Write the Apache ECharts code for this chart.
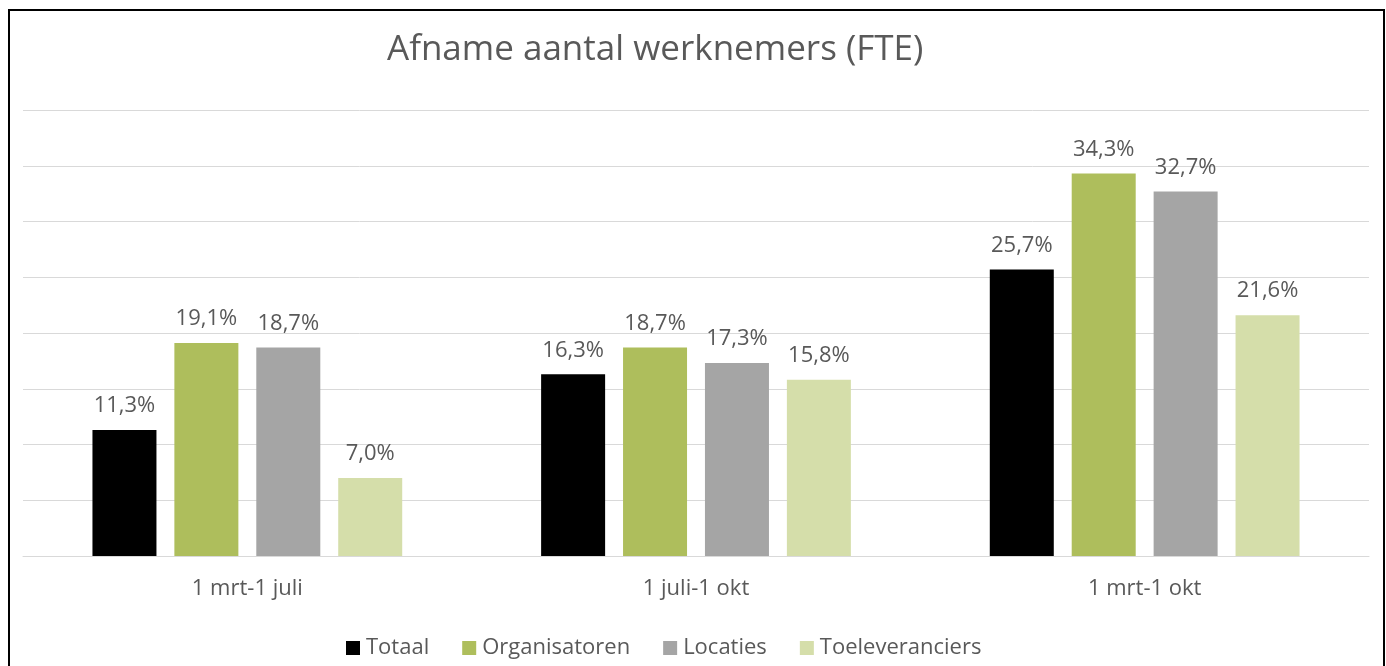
<!DOCTYPE html>
<html>
<head>
<meta charset="utf-8">
<script src="https://cdn.jsdelivr.net/npm/echarts@6/dist/echarts.min.js"></script>
<style>
html,body{margin:0;padding:0;background:#fff;}
#chart{width:1386px;height:666px;}
</style>
</head>
<body>
<div id="chart"></div>
<script>
const categories = ['1 mrt-1 juli', '1 juli-1 okt', '1 mrt-1 okt'];
const seriesNames = ['Totaal', 'Organisatoren', 'Locaties', 'Toeleveranciers'];
const totaal = [11.3, 16.3, 25.7];
const organisatoren = [19.1, 18.7, 34.3];
const locaties = [18.7, 17.3, 32.7];
const toeleveranciers = [7.0, 15.8, 21.6];
const colors = ['#000000', '#AEBE5C', '#A5A5A5', '#D5DEAA'];
const values = [totaal, organisatoren, locaties, toeleveranciers];

const FONT = '"Open Sans", "Noto Sans", sans-serif';
const chart = echarts.init(document.getElementById('chart'), null, {renderer: 'canvas'});
chart.setOption({
  animation: false,
  backgroundColor: '#fff',
  title: {
    text: 'Afname aantal werknemers (FTE)',
    left: 382, top: 28,
    textStyle: {fontFamily: FONT, fontSize: 35, fontWeight: 'normal', color: '#595959'}
  },
  graphic: [{
    type: 'rect', z: 100,
    shape: {x: 9, y: 10, width: 1375, height: 700},
    style: {fill: 'none', stroke: '#000', lineWidth: 2}
  }],
  legend: {
    bottom: 2, left: 341,
    itemWidth: 14, itemHeight: 14, itemGap: 33,
    icon: 'rect',
    textStyle: {fontFamily: FONT, fontSize: 22, color: '#595959', padding: [0,0,0,1]},
    data: seriesNames
  },
  grid: {left: 23, right: 17, top: 110, bottom: 110, containLabel: false},
  xAxis: {
    type: 'category', data: categories,
    axisLine: {lineStyle: {color: '#D9D9D9', width: 1}},
    axisTick: {show: false},
    axisLabel: {fontFamily: FONT, fontSize: 22, color: '#595959', margin: 22}
  },
  yAxis: {
    type: 'value', min: 0, max: 40, interval: 5,
    axisLabel: {show: false}, axisLine: {show: false}, axisTick: {show: false},
    splitLine: {lineStyle: {color: '#D9D9D9', width: 1}}
  },
  series: seriesNames.map((n, i) => ({
    name: n, type: 'bar', data: values[i],
    barWidth: 64, barGap: '28%',
    itemStyle: {color: colors[i]},
    label: {
      show: true, position: 'top', distance: 13,
      fontFamily: FONT, fontSize: 22, color: '#595959',
      formatter: p => p.value.toFixed(1).replace('.', ',') + '%'
    }
  }))
});
</script>
</body>
</html>
